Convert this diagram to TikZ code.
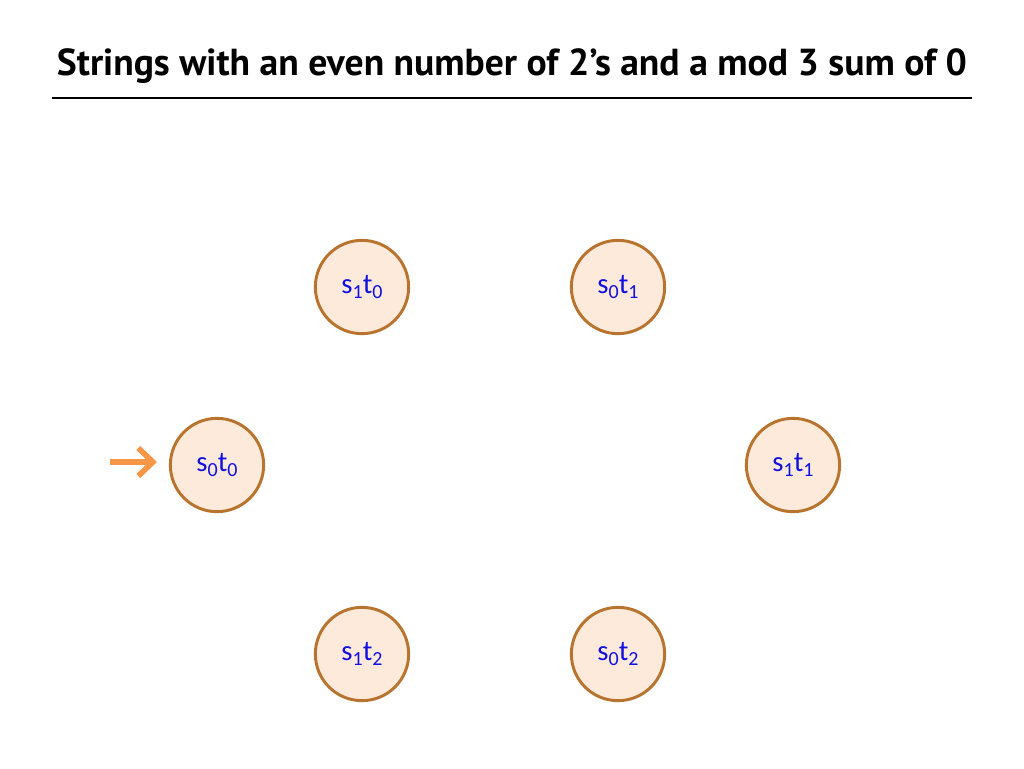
\documentclass[tikz,border=0pt]{standalone}
\usepackage{fontspec}
\setmainfont{Carlito}
\newfontfamily\titlefont{PT Sans}
\usetikzlibrary{arrows.meta}
\definecolor{statefill}{HTML}{FDEADA}
\definecolor{statedraw}{HTML}{B8732E}
\definecolor{labelblue}{HTML}{1010E0}
\definecolor{startorange}{HTML}{F79646}
\newcommand{\lowsub}[1]{\raisebox{-0.35ex}{\fontsize{15}{17}\selectfont #1}}
\tikzset{
  state/.style={circle, draw=statedraw, fill=statefill, line width=2.2pt,
    minimum size=70pt, inner sep=0pt, text=labelblue, font=\fontsize{21.5}{24}\selectfont},
  startarrow/.style={draw=startorange, line width=4.2pt,
    -{Straight Barb[length=11pt,width=21pt,line width=4.2pt]}},
  titletext/.style={font=\titlefont\bfseries\fontsize{28.2}{32}\selectfont, anchor=center, inner sep=0pt},
}
\begin{document}
\begin{tikzpicture}[x=0.75pt,y=-0.75pt]
\useasboundingbox (0,0) rectangle (1024,768);
\node[titletext] (title) at (512,66) {Strings with an even number of 2’s and a mod 3 sum of 0};
\coordinate (ruleL) at (52,98);
\coordinate (ruleR) at (972,98);
\draw[line width=2.2pt] (ruleL) -- (ruleR);

\node[state] (s1t0) at (362,287) {s\lowsub{1}t\lowsub{0}};
\node[state] (s0t1) at (618,287) {s\lowsub{0}t\lowsub{1}};
\node[state] (s0t0) at (217,465) {s\lowsub{0}t\lowsub{0}};
\node[state] (s1t1) at (793,465) {s\lowsub{1}t\lowsub{1}};
\node[state] (s1t2) at (362,654) {s\lowsub{1}t\lowsub{2}};
\node[state] (s0t2) at (618,654) {s\lowsub{0}t\lowsub{2}};

\coordinate (startpt) at (110,462);
\draw[startarrow] (startpt) -- (157,462);
\end{tikzpicture}
\end{document}
